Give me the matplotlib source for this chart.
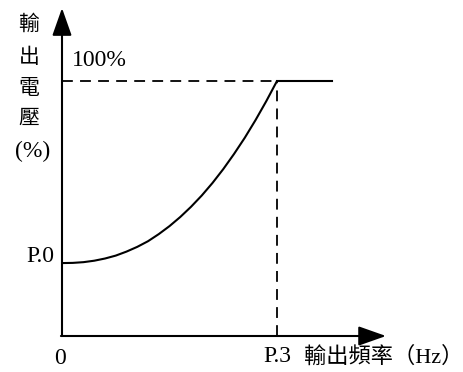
import numpy as np
import matplotlib
matplotlib.use('Agg')
import matplotlib.pyplot as plt

plt.rcParams['font.family'] = ['Liberation Serif', 'Noto Sans CJK TC']

# curve (x: frequency, P.3 = 1 ; y: voltage, 100% = 1)
p0 = 0.286
curve_x = [0.0, 0.05, 0.1, 0.15, 0.2, 0.25, 0.3, 0.35, 0.4, 0.45, 0.5,
           0.55, 0.6, 0.65, 0.7, 0.75, 0.8, 0.85, 0.9, 0.95, 1.0]
curve_frac = [0.0, 0.001, 0.005, 0.013, 0.025, 0.041, 0.063, 0.089, 0.12,
              0.159, 0.203, 0.253, 0.309, 0.371, 0.44, 0.516, 0.599,
              0.688, 0.785, 0.889, 1.0]
flat_end = 1.256
x_tip = 1.507
y_tip = 1.286

fig = plt.figure(figsize=(4.63, 3.72), dpi=100)
ax = fig.add_axes([0, 0, 1, 1])
ax.set_xlim(-62 / 215, 401 / 215)
ax.set_ylim(-36 / 255, 336 / 255)
ax.axis('off')

curve_y = [p0 + (1 - p0) * f for f in curve_frac]
ax.plot(curve_x, curve_y, color='black', lw=1.5, solid_capstyle='butt')
ax.plot([1, flat_end], [1, 1], color='black', lw=1.5)
ax.plot([0, 1], [1, 1], color='black', lw=1.3, dashes=(6, 4))
ax.plot([1, 1], [0, 1], color='black', lw=1.3, dashes=(6, 4))

arrow = dict(arrowstyle='-|>,head_length=1.7,head_width=0.6', mutation_scale=10,
             lw=1.5, color='black', shrinkA=0, shrinkB=0)
ax.annotate('', xy=(0, y_tip), xytext=(0, 0), arrowprops=arrow)
ax.annotate('', xy=(x_tip, 0), xytext=(-0.005, 0), arrowprops=arrow)

ylab = ['輸', '出', '電', '壓']
ypos = [25, 58, 89, 119]
for s, yp in zip(ylab, ypos):
    ax.text(29 / 463, 1 - yp / 372, s, transform=ax.transAxes, fontsize=15,
            ha='center', va='center')
ax.text(33 / 463, 1 - 151 / 372, '(%)', transform=ax.transAxes, fontsize=17,
        ha='center', va='center')
ax.text(72 / 463, 1 - 61 / 372, '100%', transform=ax.transAxes, fontsize=17,
        ha='left', va='center')
ax.text(54 / 463, 1 - 257 / 372, 'P.0', transform=ax.transAxes, fontsize=17,
        ha='right', va='center')
ax.text(60 / 463, 1 - 358 / 372, '0', transform=ax.transAxes, fontsize=17,
        ha='center', va='center')
ax.text(263 / 463, 1 - 357 / 372, 'P.3', transform=ax.transAxes, fontsize=17,
        ha='left', va='center')
ax.text(304 / 463, 1 - 357 / 372, '輸出頻率（Hz）', transform=ax.transAxes,
        fontsize=16, ha='left', va='center')

fig.savefig('out.png', dpi=100)
